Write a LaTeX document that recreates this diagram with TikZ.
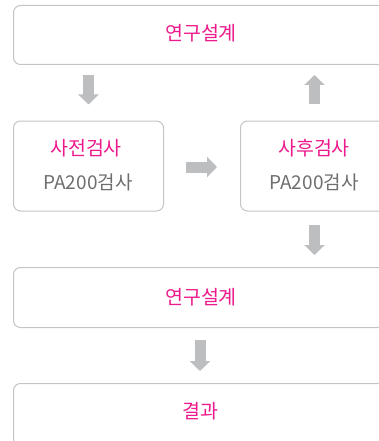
\documentclass[tikz,border=0pt]{standalone}
\usepackage{fontspec}
\setmainfont{Noto Sans CJK KR}
\usetikzlibrary{arrows.meta}
\definecolor{mag}{HTML}{EC1A8C}
\definecolor{txtgray}{HTML}{6E6E6E}
\definecolor{arrgray}{HTML}{BDBEC0}
\definecolor{bordergray}{HTML}{C4C4C4}
\tikzset{
  box/.style={draw=bordergray, line width=1pt, rounded corners=7pt, anchor=north west, inner sep=0pt},
  title/.style={text=mag, font=\fontsize{19.5}{22}\selectfont, inner sep=0pt},
  sub/.style={text=txtgray, font=\fontsize{19}{22}\selectfont, inner sep=0pt},
  fat/.style={draw=arrgray, line width=11pt, -{Triangle[width=20pt,length=10pt]}}
}
\begin{document}
\begin{tikzpicture}[x=1pt,y=-1pt]
\useasboundingbox (0,0) rectangle (379,441);
\clip (0,0) rectangle (379,441);
\node[box, minimum width=376pt, minimum height=59pt] (d1) at (13,5) {};
\node[title] (t1) at (201,33) {연구설계};
\node[box, minimum width=150pt, minimum height=90pt] (pre) at (13,120.5) {};
\node[title] (tpre) at (86,148) {사전검사};
\node[sub] (spre) at (88,182) {PA200검사};
\node[box, minimum width=148pt, minimum height=90pt] (post) at (240,120.5) {};
\node[title] (tpost) at (314,148) {사후검사};
\node[sub] (spost) at (314,182) {PA200검사};
\node[box, minimum width=376pt, minimum height=60pt] (d2) at (13,267) {};
\node[title] (t2) at (201,297) {연구설계};
\node[box, minimum width=376pt, minimum height=62pt] (res) at (13,383) {};
\node[title] (t3) at (200,411) {결과};
\draw[fat, shorten <=10pt, shorten >=16pt] (d1.south -| pre.north) -- (pre.north);
\draw[fat, shorten <=16pt, shorten >=10pt] (post.north) -- (d1.south -| post.north);
\draw[fat, shorten <=22pt, shorten >=23pt] ([yshift=-1pt]pre.east) -- ([yshift=-1pt]pre.east -| post.west);
\draw[fat, shorten <=13pt, shorten >=12pt] (post.south) -- (d2.north -| post.south);
\draw[fat, shorten <=12pt, shorten >=12pt] (d2.south -| t3) -- (res.north -| t3);
\end{tikzpicture}
\end{document}
